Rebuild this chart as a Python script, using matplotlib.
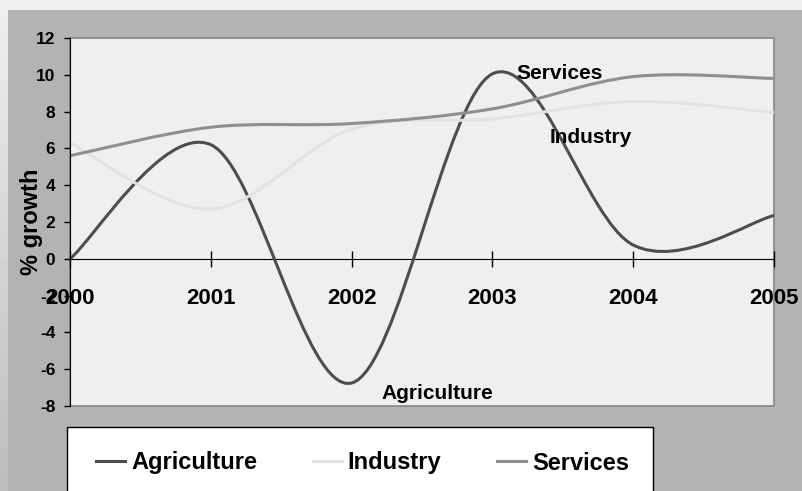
import matplotlib
matplotlib.use("Agg")
import matplotlib.pyplot as plt
import numpy as np
from matplotlib.path import Path
from matplotlib.patches import PathPatch, Rectangle
from matplotlib.lines import Line2D

plt.rcParams['font.family'] = ['Liberation Sans', 'DejaVu Sans']
plt.rcParams['font.weight'] = 'bold'
plt.rcParams['axes.labelweight'] = 'bold'

years = [2000, 2001, 2002, 2003, 2004, 2005]
agriculture = [0.0, 6.2, -6.75, 10.05, 0.75, 2.35]
industry = [6.3, 2.7, 7.05, 7.6, 8.55, 7.95]
services = [5.6, 7.15, 7.35, 8.15, 9.9, 9.8]

series_names = ['Agriculture', 'Industry', 'Services']
series_colors = ['#4d4d4d', '#e2e2e2', '#8f8f8f']
y_ticks = list(range(-8, 13, 2))


def smooth_path(x, y):
    # excel style smoothed line: bezier segments with catmull-rom control points
    pts = np.column_stack([x, y]).astype(float)
    n = len(pts)
    verts = [pts[0]]
    codes = [Path.MOVETO]
    for i in range(n - 1):
        p_prev = pts[max(i - 1, 0)]
        p0 = pts[i]
        p1 = pts[i + 1]
        p_next = pts[min(i + 2, n - 1)]
        c1 = p0 + (p1 - p_prev) / 6.0
        c2 = p1 - (p_next - p0) / 6.0
        verts += [c1, c2, p1]
        codes += [Path.CURVE4] * 3
    return Path(verts, codes)


fig = plt.figure(figsize=(8.03, 4.91), dpi=100, facecolor='#b3b3b3')

# light band on top and a fading strip on the left
fig.patches.append(Rectangle((0, 1 - 10 / 491), 1, 10 / 491, transform=fig.transFigure,
                             facecolor='#f0f0f0', edgecolor='none', zorder=0))
strip = fig.add_axes([0, 0, 8 / 803, 1 - 10 / 491])
strip.imshow(np.linspace(0.93, 0.74, 100).reshape(-1, 1), cmap='gray', vmin=0, vmax=1,
             aspect='auto', extent=[0, 1, 0, 1])
strip.set_axis_off()

ax = fig.add_axes([70 / 803, 85 / 491, 704 / 803, 368 / 491])
ax.set_facecolor('#efefef')
ax.set_xlim(2000, 2005)
ax.set_ylim(-8, 12)

for name, vals, col in zip(series_names, [agriculture, industry, services], series_colors):
    ax.add_patch(PathPatch(smooth_path(years, vals), facecolor='none', edgecolor=col,
                           lw=2.2, joinstyle='round', capstyle='round', zorder=3))

# plot area border
ax.add_patch(Rectangle((0, 0), 1, 1, transform=ax.transAxes, fill=False,
                       edgecolor='#858585', lw=1.2, clip_on=False, zorder=1))
ax.spines['top'].set_visible(False)
ax.spines['right'].set_visible(False)
ax.spines['left'].set_color('black')
ax.spines['left'].set_zorder(4)
ax.spines['bottom'].set_position(('data', 0))
ax.spines['bottom'].set_color('black')

ax.set_yticks(y_ticks)
ax.set_yticklabels([str(v) for v in y_ticks])
ax.tick_params(axis='y', direction='out', length=4.5, width=1, pad=6, labelsize=12.5)
ax.set_xticks(years)
ax.set_xticklabels([str(v) for v in years])
ax.tick_params(axis='x', direction='inout', length=11.5, width=1, pad=15, labelsize=16)

ax.set_ylabel('% growth', fontsize=17, fontweight='bold', va='center')
ax.yaxis.set_label_coords(-0.054, 0.5)

ax.text(2003.48, 9.76, 'Services', ha='center', va='baseline', fontsize=15, zorder=5)
ax.text(2003.70, 6.28, 'Industry', ha='center', va='baseline', fontsize=15, zorder=5)
ax.text(2002.61, -7.62, 'Agriculture', ha='center', va='baseline', fontsize=15, zorder=5)

# legend box running off the bottom edge
fig.patches.append(Rectangle((67 / 803, -0.05), (653 - 67) / 803, (491 - 427) / 491 + 0.05,
                             transform=fig.transFigure, facecolor='white',
                             edgecolor='black', lw=1, zorder=1))
handles = [Line2D([], [], color=c, lw=2.2) for c in series_colors]
fig.legend(handles, series_names, ncol=3, frameon=False, loc='center left',
           bbox_to_anchor=(96 / 803, 1 - 463 / 491), fontsize=17, handlelength=1.23,
           handletextpad=0.25, columnspacing=2.37, borderpad=0, borderaxespad=0)

fig.savefig('out.png', dpi=100, facecolor=fig.get_facecolor())
